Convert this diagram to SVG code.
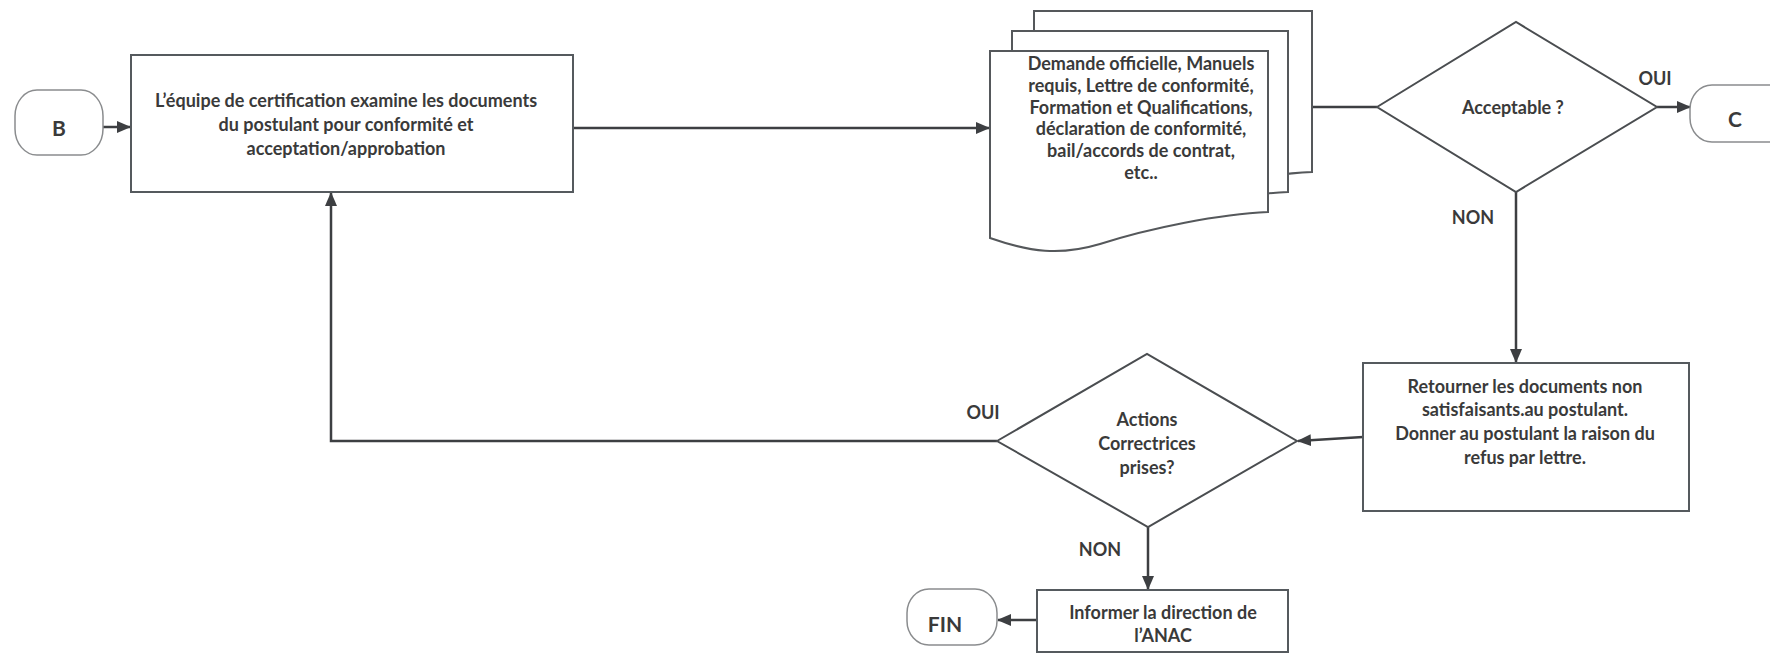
<svg xmlns="http://www.w3.org/2000/svg" width="1770" height="659" viewBox="0 0 1770 659">
<style>
.bg{fill:#ffffff}
.box{fill:#ffffff;stroke:#555a5e;stroke-width:2}
.term{fill:#ffffff;stroke:#8a8c8e;stroke-width:1.5}
.dia{fill:#ffffff;stroke:#4a4d50;stroke-width:2}
.doc{fill:#ffffff;stroke:#55585b;stroke-width:2}
.ln{fill:none;stroke:#3d3f42;stroke-width:2.5}
.t{font-family:Lato,"Liberation Sans",sans-serif;font-weight:700;font-size:18px;fill:#3a3a3a;text-anchor:middle;dominant-baseline:central}
.tl{font-family:Lato,"Liberation Sans",sans-serif;font-weight:700;font-size:21px;fill:#3a3a3a;text-anchor:middle;dominant-baseline:central}
</style>
<defs>
<marker id="ah" markerUnits="userSpaceOnUse" markerWidth="14" markerHeight="12" viewBox="0 0 14 12" refX="13" refY="6" orient="auto">
<path d="M0,0 L14,6 L0,12 Z" fill="#3d3f42"/>
</marker>
</defs>
<rect class="bg" x="0" y="0" width="1770" height="659"/>

<g id="connectors">
<line class="ln" x1="103" y1="127" x2="130" y2="127" marker-end="url(#ah)"/>
<line class="ln" x1="573" y1="128" x2="989" y2="128" marker-end="url(#ah)"/>
<line class="ln" x1="1312" y1="107" x2="1377" y2="107"/>
<line class="ln" x1="1657" y1="107" x2="1690" y2="107" marker-end="url(#ah)"/>
<line class="ln" x1="1516" y1="192" x2="1516" y2="362" marker-end="url(#ah)"/>
<line class="ln" x1="1363" y1="437" x2="1298" y2="441" marker-end="url(#ah)"/>
<polyline class="ln" points="997,441 331,441 331,193" marker-end="url(#ah)"/>
<line class="ln" x1="1148" y1="527" x2="1148" y2="589" marker-end="url(#ah)"/>
<line class="ln" x1="1037" y1="620" x2="998" y2="620" marker-end="url(#ah)"/>
<text class="t" x="1655" y="78">OUI</text>
<text class="t" x="1473" y="217">NON</text>
<text class="t" x="983" y="412">OUI</text>
<text class="t" x="1100" y="549">NON</text>
</g>

<g id="node-b">
<rect class="term" x="15" y="90" width="88" height="65" rx="22" ry="26"/>
<text class="tl" x="59" y="127">B</text>
</g>

<g id="node-examine">
<rect class="box" x="131" y="55" width="442" height="137"/>
<text class="t" x="346" y="100">L’équipe de certification examine les documents</text>
<text class="t" x="346" y="124">du postulant pour conformité et</text>
<text class="t" x="346" y="148">acceptation/approbation</text>
</g>

<g id="node-documents">
<path class="doc" d="M1034,11 H1312 V172 C1264,174 1194,188 1144,204 C1104,216 1074,212 1034,198 Z"/>
<path class="doc" d="M1012,31 H1288 V192 C1242,194 1172,208 1122,224 C1082,236 1052,232 1012,218 Z"/>
<path class="doc" d="M990,51 H1268 V212 C1220,214 1150,228 1100,244 C1060,256 1030,252 990,238 Z"/>
<text class="t" x="1141" y="63">Demande officielle, Manuels</text>
<text class="t" x="1141" y="85">requis, Lettre de conformité,</text>
<text class="t" x="1141" y="107">Formation et Qualifications,</text>
<text class="t" x="1141" y="128">déclaration de conformité,</text>
<text class="t" x="1141" y="150">bail/accords de contrat,</text>
<text class="t" x="1141" y="172">etc..</text>
</g>

<g id="node-acceptable">
<polygon class="dia" points="1377,107 1516,22 1657,107 1516,192"/>
<text class="t" x="1513" y="107">Acceptable ?</text>
</g>

<g id="node-c">
<rect class="term" x="1690" y="85" width="100" height="57" rx="22" ry="24"/>
<text class="tl" x="1735" y="118">C</text>
</g>

<g id="node-retourner">
<rect class="box" x="1363" y="363" width="326" height="148"/>
<text class="t" x="1525" y="386">Retourner les documents non</text>
<text class="t" x="1525" y="409">satisfaisants.au postulant.</text>
<text class="t" x="1525" y="433">Donner au postulant la raison du</text>
<text class="t" x="1525" y="457">refus par lettre.</text>
</g>

<g id="node-actions">
<polygon class="dia" points="997,441 1147,354 1297,441 1148,527"/>
<text class="t" x="1147" y="419">Actions</text>
<text class="t" x="1147" y="443">Correctrices</text>
<text class="t" x="1147" y="467">prises?</text>
</g>

<g id="node-informer">
<rect class="box" x="1037" y="590" width="251" height="62"/>
<text class="t" x="1163" y="612">Informer la direction de</text>
<text class="t" x="1163" y="635">l’ANAC</text>
</g>

<g id="node-fin">
<rect class="term" x="907" y="589" width="90" height="56" rx="22" ry="24"/>
<text class="tl" x="945" y="623">FIN</text>
</g>
</svg>
